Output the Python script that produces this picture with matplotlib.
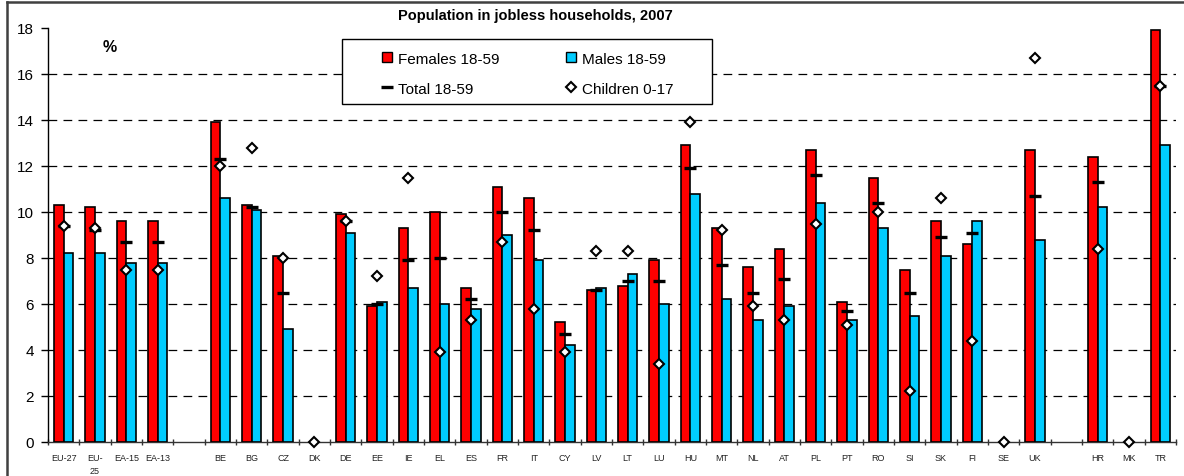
import matplotlib
matplotlib.use("Agg")
import matplotlib.pyplot as plt
import numpy as np
from matplotlib.lines import Line2D
from matplotlib.patches import Patch, Rectangle

plt.rcParams['font.family'] = ['Liberation Sans', 'DejaVu Sans']

nan = np.nan

# categories (blank entries are spacer slots)
countries = ['EU-27', 'EU-\n25', 'EA-15', 'EA-13', '',
             'BE', 'BG', 'CZ', 'DK', 'DE', 'EE', 'IE', 'EL', 'ES', 'FR',
             'IT', 'CY', 'LV', 'LT', 'LU', 'HU', 'MT', 'NL', 'AT', 'PL',
             'PT', 'RO', 'SI', 'SK', 'FI', 'SE', 'UK', '',
             'HR', 'MK', 'TR']

females = [10.3, 10.2, 9.6, 9.6, nan,
           13.9, 10.3, 8.1, nan, 9.9, 5.9, 9.3, 10.0, 6.7, 11.1,
           10.6, 5.2, 6.6, 6.8, 7.9, 12.9, 9.3, 7.6, 8.4, 12.7,
           6.1, 11.5, 7.5, 9.6, 8.6, nan, 12.7, nan,
           12.4, nan, 17.9]

males = [8.2, 8.2, 7.8, 7.8, nan,
         10.6, 10.1, 4.9, nan, 9.1, 6.1, 6.7, 6.0, 5.8, 9.0,
         7.9, 4.2, 6.7, 7.3, 6.0, 10.8, 6.2, 5.3, 5.9, 10.4,
         5.3, 9.3, 5.5, 8.1, 9.6, nan, 8.8, nan,
         10.2, nan, 12.9]

total = [9.4, 9.2, 8.7, 8.7, nan,
         12.3, 10.2, 6.5, nan, 9.6, 6.0, 7.9, 8.0, 6.2, 10.0,
         9.2, 4.7, 6.6, 7.0, 7.0, 11.9, 7.7, 6.5, 7.1, 11.6,
         5.7, 10.4, 6.5, 8.9, 9.1, nan, 10.7, nan,
         11.3, nan, 15.5]

children = [9.4, 9.3, 7.5, 7.5, nan,
            12.0, 12.8, 8.0, 0.0, 9.6, 7.2, 11.5, 3.9, 5.3, 8.7,
            5.8, 3.9, 8.3, 8.3, 3.4, 13.9, 9.2, 5.9, 5.3, 9.5,
            5.1, 10.0, 2.2, 10.6, 4.4, 0.0, 16.7, nan,
            8.4, 0.0, 15.5]

red = '#FF0000'
blue = '#00CCFF'

W, H = 1184, 477
fig = plt.figure(figsize=(W / 100, H / 100), dpi=100)
ax = fig.add_axes([48 / W, 34 / H, 1128 / W, 414 / H])

x = np.arange(len(countries))
bw = 0.31
ax.bar(x - bw / 2, females, bw, color=red, edgecolor='black', linewidth=1.2, zorder=3)
ax.bar(x + bw / 2, males, bw, color=blue, edgecolor='black', linewidth=1.2, zorder=3)
ax.plot(x, total, linestyle='none', marker='_', markersize=8.5,
        markeredgewidth=2.4, color='black', zorder=4)
ax.plot(x, children, linestyle='none', marker='D', markersize=5,
        markerfacecolor='white', markeredgecolor='black', markeredgewidth=1.5,
        zorder=5, clip_on=False)

# axes
ax.set_xlim(-0.5, len(countries) - 0.5)
ax.set_ylim(0, 18)
ax.set_yticks(np.arange(0, 19, 2))
ax.tick_params(axis='y', direction='out', length=5, width=1, labelsize=11, pad=5)
ax.set_xticks(x)
ax.set_xticklabels(countries, fontsize=6.5, color='#222222', linespacing=1.6, va='top')
ax.tick_params(axis='x', which='major', length=0, pad=8)
ax.set_xticks(np.arange(-0.5, len(countries), 1), minor=True)
ax.tick_params(axis='x', which='minor', direction='inout', length=5, width=1, color='#333333')

for s in ['top', 'right']:
    ax.spines[s].set_visible(False)
ax.spines['left'].set_linewidth(1.0)
ax.spines['bottom'].set_linewidth(1.0)
ax.spines['bottom'].set_color('#333333')

for yv in range(2, 17, 2):
    ax.axhline(yv, color='black', linewidth=0.9, dashes=(7, 5), zorder=1)

ax.text(110 / W, 1 - 48 / H, '%', transform=fig.transFigure, fontsize=11.5,
        fontweight='bold', ha='center', va='center')

fig.text(535 / W, 1 - 16 / H, 'Population in jobless households, 2007',
         fontsize=10.5, fontweight='bold', ha='center', va='center')

# legend with its own box
box = Rectangle((342 / W, 1 - 105 / H), 370 / W, 65 / H, transform=fig.transFigure,
                facecolor='white', edgecolor='black', linewidth=1.0, zorder=6)
ax.add_artist(box)
box.set_clip_on(False)

handles = [Patch(facecolor=red, edgecolor='black', linewidth=1.0),
           Line2D([], [], linestyle='none', marker='_', markersize=8.5,
                  markeredgewidth=2.4, color='black'),
           Patch(facecolor=blue, edgecolor='black', linewidth=1.0),
           Line2D([], [], linestyle='none', marker='D', markersize=5,
                  markerfacecolor='white', markeredgecolor='black', markeredgewidth=1.5)]
labels = ['Females 18-59', 'Total 18-59', 'Males 18-59', 'Children 0-17']
leg = ax.legend(handles, labels, ncol=2, frameon=False, fontsize=11,
                loc='upper left', bbox_to_anchor=(374 / W, 1 - 45 / H),
                bbox_transform=fig.transFigure, borderpad=0,
                handlelength=0.65, handleheight=0.65, handletextpad=0.45,
                labelspacing=1.05, columnspacing=4.3)
leg.set_zorder(7)

# outer frame lines (top and left only)
fig.add_artist(Line2D([7 / W, 1], [1 - 3 / H, 1 - 3 / H], transform=fig.transFigure,
                      color='#404040', linewidth=1.8))
fig.add_artist(Line2D([7 / W, 7 / W], [0, 1 - 3 / H], transform=fig.transFigure,
                      color='#404040', linewidth=1.8))

fig.savefig('out.png', dpi=100)
